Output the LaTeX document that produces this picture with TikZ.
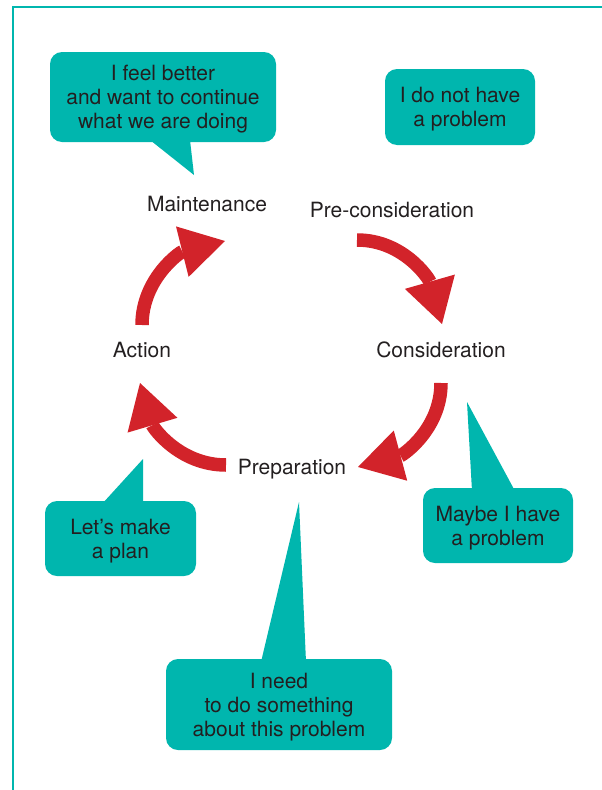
\documentclass[tikz,border=0pt]{standalone}
\usepackage{fontspec}
\setmainfont{TeX Gyre Heros}
\usetikzlibrary{arrows.meta}
\definecolor{bubblecol}{RGB}{0,182,174}
\definecolor{arrowcol}{RGB}{210,35,42}
\definecolor{inkcol}{RGB}{35,31,32}

\begin{document}
\begin{tikzpicture}[x=1pt,y=1pt,
  bubble/.style={fill=bubblecol,rounded corners=12pt,inner sep=0pt,text depth=0pt,align=center,text=inkcol,font=\fontsize{21}{24}\selectfont},
  tail/.style={fill=bubblecol},
  stage/.style={text=inkcol,font=\fontsize{21}{24}\selectfont},
  cyclearrow/.style={draw=arrowcol,line width=13.5pt,-{Triangle[length=44pt,width=52pt,line width=0pt]}}]

  \useasboundingbox (0,0) rectangle (602,-790);
  \draw[bubblecol,line width=2pt] (13,-791) -- (13,-7) -- (603,-7);

  % tips of the speech bubbles
  \coordinate (feeltip) at (194,-175);
  \coordinate (plantip) at (143,-459);
  \coordinate (maybetip) at (467,-402);
  \coordinate (needtip) at (299,-502);

  \fill[tail] (150,-140) -- (190,-140) -- (feeltip) -- cycle;
  \fill[tail] (102,-504) -- (143,-504) -- (plantip) -- cycle;
  \fill[tail] (472,-491) -- (515,-491) -- (maybetip) -- cycle;
  \fill[tail] (261,-662) -- (306,-662) -- (needtip) -- cycle;

  \draw (163,-97) node[bubble,minimum width=226pt,minimum height=90pt] (feel) {I feel better\\and want to continue\\what we are doing};
  \draw (460,-107) node[bubble,minimum width=150pt,minimum height=76pt] (noprob) {I do not have\\a problem};
  \draw (120.5,-538.5) node[bubble,minimum width=151pt,minimum height=75pt] (plan) {Let’s make\\a plan};
  \draw (498,-525.5) node[bubble,minimum width=150pt,minimum height=75pt] (maybe) {Maybe I have\\a problem};
  \draw (279,-704.5) node[bubble,minimum width=226pt,minimum height=91pt] (need) {I need\\to do something\\about this problem};

  \draw (207,-204) node[stage] (maint) {Maintenance};
  \draw (392,-210) node[stage] (precons) {Pre-consideration};
  \draw (142,-350) node[stage] (action) {Action};
  \draw (441,-350) node[stage] (cons) {Consideration};
  \draw (292,-469) node[stage] (prep) {Preparation};

  % ends of the cycle arrows
  \coordinate (a1s) at (142,-325);
  \coordinate (a1e) at (225,-241);
  \coordinate (a2s) at (357,-240);
  \coordinate (a2e) at (442,-324);
  \coordinate (a3s) at (441,-383);
  \coordinate (a3e) at (358,-467);
  \coordinate (a4s) at (226,-465);
  \coordinate (a4e) at (140,-383);

  \draw[cyclearrow] (a1s) to[out=90,in=194] (a1e);
  \draw[cyclearrow] (a2s) to[out=0,in=106] (a2e);
  \draw[cyclearrow] (a3s) to[out=-90,in=15] (a3e);
  \draw[cyclearrow] (a4s) to[out=180,in=-73.5] (a4e);

\end{tikzpicture}
\end{document}
